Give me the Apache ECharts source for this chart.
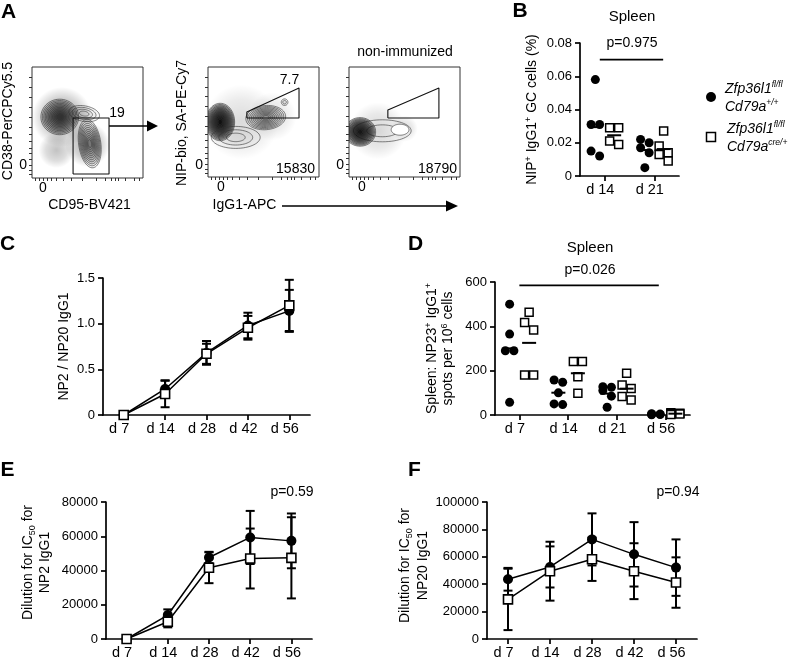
<!DOCTYPE html>
<html><head><meta charset="utf-8">
<script src="https://cdn.jsdelivr.net/npm/echarts@6/dist/echarts.min.js"></script>
<style>html,body{margin:0;padding:0;background:#fff}#c{width:790px;height:660px}</style>
</head><body><div id="c"></div>
<script>
const FONT = '"Liberation Sans", Arial, Helvetica, sans-serif';

// ---------- Panel A (flow cytometry) ----------
// speckle clouds: [cx, cy, rx, ry, rotationDeg, density]   (axis units 0-100)
// contour populations: [cx, cy, rx, ry, rotationDeg, levels, density]
const flow1Clouds = [[27,55,30,27,0,0.36],[50,30,20,32,0,0.32],[22,25,16,22,0,0.24]];
const flow1Contours = [[25,55,17,16,0,12,0.09],[47,58,14,7,-10,4,0.03],[52,31,10,22,8,11,0.035]];
const flow1Gate = [[37,3.6],[69.4,3.6],[69.4,54],[37,54],[37,3.6]];
const flow2Clouds = [[30,50,42,34,0,0.14],[58,55,30,22,0,0.12]];
const flow2Contours = [[11,50,13,17,0,14,0.16],[25,36,22,10,0,3,0.02],[52,54,18,11,5,10,0.035],[69,68,3,3,0,2,0.05]];
const flow2Gate = [[35,53.6],[35,59],[82,81],[82,53.6],[35,53.6]];
const flow3Clouds = [[26,42,30,26,0,0.16],[50,44,24,12,0,0.14]];
const flow3Contours = [[30,42,26,10,0,2,0],[10,41,14,13,0,12,0.17],[46,43,8,5,0,1,-1]];
const flow3Gate = [[35,53.6],[35,61],[81,81],[81,53.6],[35,53.6]];
const flowGatePercent = ['19', '7.7', ''];
const flowEventCount = ['', '15830', '18790'];
const flowYTicks = [3, 7, 11.7, 17, 22, 27, 33, 39, 46, 55, 64, 73, 82, 91];
const flowXTicks = [3, 6.5, 10, 13.5, 17, 22, 28, 35, 45, 58, 66, 71, 75, 78, 84, 92, 97];

// ---------- Panel B ----------
const bCategories = ['d 14', 'd 21'];
const bTicks = [0, 0.02, 0.04, 0.06, 0.08];
const bWildtype = [[0.058, 0.031, 0.031, 0.015, 0.012], [0.022, 0.020, 0.017, 0.014, 0.005]];
const bKnockout = [[0.029, 0.029, 0.021, 0.019], [0.027, 0.018, 0.014, 0.013, 0.009]];
const bSigBar = [-0.1, 1.18, 0.07];

// ---------- Panel C ----------
const timeCategories = ['d 7', 'd 14', 'd 28', 'd 42', 'd 56'];
const cTicks = [0, 0.5, 1.0, 1.5];
const cWtMean = [0, 0.285, 0.68, 0.98, 1.14];
const cWtErr  = [0, 0.095, 0.13, 0.14, 0.23];
const cKoMean = [0, 0.23, 0.67, 0.955, 1.2];
const cKoErr  = [0, 0.145, 0.11, 0.13, 0.28];

// ---------- Panel D ----------
const dCategories = ['d 7', 'd 14', 'd 21', 'd 56'];
const dTicks = [0, 200, 400, 600];
const dWildtype = [[500, 365, 290, 290, 57], [158, 148, 100, 50, 47], [128, 125, 110, 85, 35], [6, 4, 3, 2, 1]];
const dKnockout = [[464, 417, 384, 181, 181], [241, 241, 173, 98], [188, 135, 120, 83, 68], [10, 8, 6, 4, 2]];
const dSigBar = [0, 2.86, 585];

// ---------- Panel E ----------
const eTicks = [0, 20000, 40000, 60000, 80000];
const eWtMean = [0, 14000, 47600, 59300, 57300];
const eWtErr  = [0, 3300, 3300, 15500, 16000];
const eKoMean = [0, 10100, 41600, 47000, 47400];
const eKoErr  = [0, 3300, 9000, 17500, 23700];

// ---------- Panel F ----------
const fTicks = [0, 20000, 40000, 60000, 80000, 100000];
const fWtMean = [43600, 52600, 72700, 61800, 52100];
const fWtErr  = [8300, 15000, 19000, 23500, 20600];
const fKoMean = [28900, 49500, 58200, 49500, 41200];
const fKoErr  = [22400, 21500, 15800, 20400, 18400];

// ================= layout =================
const G = [
  {left:32, top:67, width:111, height:111},
  {left:208, top:67, width:111, height:110},
  {left:349, top:67, width:111, height:110},
  {left:580, top:43, width:99, height:133},
  {left:103, top:278, width:207, height:137},
  {left:495, top:282, width:195, height:133},
  {left:106, top:502, width:206, height:137},
  {left:487, top:502, width:210, height:137}
];
const grids = G.map((g, i) => Object.assign({containLabel:false}, g,
  i < 3 ? {show:true, borderColor:'#333', borderWidth:1, backgroundColor:'transparent'} : {}));

const AXL = {show:true, onZero:false, lineStyle:{color:'#000', width:1.7}};
const AXT = {show:true, length:5, lineStyle:{color:'#000', width:1.7}};
const LBL = {color:'#000', fontFamily:FONT, fontSize:13};
const XLBL = {color:'#000', fontFamily:FONT, fontSize:14.5, margin:6, padding:[0,9,0,0]};
const NAMEST = (lh, pad) => ({color:'#000', fontFamily:FONT, fontSize:14, lineHeight:lh, align:'center', padding:pad || 0,
  rich:{
    sup:{fontFamily:FONT, fontSize:9, lineHeight:10, verticalAlign:'top', color:'#000'},
    sub:{fontFamily:FONT, fontSize:9, lineHeight:8, verticalAlign:'bottom', color:'#000'}
  }});
const noSplit = {show:false};

function flowAxes(i, zx, zy) {
  return {
    x: {gridIndex:i, type:'value', min:0, max:100, axisLine:{show:false}, splitLine:noSplit,
        axisTick:{show:true, inside:false, length:3, customValues:flowXTicks, lineStyle:{color:'#333', width:1}},
        axisLabel:{show:true, customValues:[zx], formatter:()=>'0', color:'#000', fontFamily:FONT, fontSize:14, margin:3}},
    y: {gridIndex:i, type:'value', min:0, max:100, axisLine:{show:false}, splitLine:noSplit,
        axisTick:{show:true, inside:false, length:3, customValues:flowYTicks, lineStyle:{color:'#333', width:1}},
        axisLabel:{show:true, customValues:[zy], formatter:()=>'0', color:'#000', fontFamily:FONT, fontSize:14, margin:5}}
  };
}
const fa = [flowAxes(0, 9.9, 11.7), flowAxes(1, 11.7, 10.9), flowAxes(2, 11.7, 10.9)];

const xAxes = [fa[0].x, fa[1].x, fa[2].x,
  {gridIndex:3, type:'value', min:-0.5, max:1.5, axisLine:AXL, splitLine:noSplit,
   axisTick:Object.assign({customValues:[0,1]}, AXT),
   axisLabel:Object.assign({customValues:[0,1], formatter:v=>bCategories[Math.round(v)]}, XLBL)},
  {gridIndex:4, type:'category', data:timeCategories, boundaryGap:true, axisLine:AXL,
   axisTick:Object.assign({alignWithLabel:true}, AXT), axisLabel:Object.assign({interval:0}, XLBL)},
  {gridIndex:5, type:'value', min:-0.5, max:3.5, axisLine:AXL, splitLine:noSplit,
   axisTick:Object.assign({customValues:[0,1,2,3]}, AXT),
   axisLabel:Object.assign({customValues:[0,1,2,3], formatter:v=>dCategories[Math.round(v)]}, XLBL)},
  {gridIndex:6, type:'category', data:timeCategories, boundaryGap:true, axisLine:AXL,
   axisTick:Object.assign({alignWithLabel:true}, AXT), axisLabel:Object.assign({interval:0}, XLBL)},
  {gridIndex:7, type:'category', data:timeCategories, boundaryGap:true, axisLine:AXL,
   axisTick:Object.assign({alignWithLabel:true}, AXT), axisLabel:Object.assign({interval:0}, XLBL)}
];

function valY(gi, ticks, fmt, name, gap, lh, pad) {
  return {gridIndex:gi, type:'value', min:ticks[0], max:ticks[ticks.length-1], interval:ticks[1]-ticks[0],
    axisLine:AXL, axisTick:AXT, splitLine:noSplit,
    axisLabel:Object.assign({formatter:fmt, margin:8}, LBL),
    name:name, nameLocation:'middle', nameRotate:90, nameGap:gap, nameTextStyle:NAMEST(lh, pad)};
}
const yAxes = [fa[0].y, fa[1].y, fa[2].y,
  valY(3, bTicks, v => v === 0 ? '0' : v.toFixed(2), 'NIP{sup|+} IgG1{sup|+} GC cells (%)', 39, 17),
  valY(4, cTicks, v => v === 0 ? '0' : v.toFixed(1), 'NP2 / NP20 IgG1', 29, 17),
  valY(5, dTicks, v => String(v), 'Spleen: NP23{sup|+} IgG1{sup|+}\nspots per 10{sup|6} cells', 39, 16),
  valY(6, eTicks, v => String(v), 'Dilution for IC{sub|50} for\nNP2 IgG1', 52, 17, [0,0,0,16]),
  valY(7, fTicks, v => String(v), 'Dilution for IC{sub|50} for\nNP20 IgG1', 45, 18, [0,0,0,10])
];

// ================= renderers =================
function ellipsePoints(c, s, f, rotDeg) {
  const pts = [], r = rotDeg * Math.PI / 180;
  for (let i = 0; i < 60; i++) {
    const t = i / 60 * 2 * Math.PI;
    const ex = s[0] * f * Math.cos(t), ey = s[1] * f * Math.sin(t);
    pts.push([c[0] + ex * Math.cos(r) - ey * Math.sin(r), c[1] - (ex * Math.sin(r) + ey * Math.cos(r))]);
  }
  return pts;
}
function cloudItem(params, api) {
  const c = api.coord([api.value(0), api.value(1)]);
  const s = api.size([api.value(2), api.value(3)]);
  const a = api.value(5);
  return {type:'polygon', shape:{points:ellipsePoints(c, s, 1, api.value(4))},
    style:{fill:{type:'radial', x:0.5, y:0.5, r:0.5, colorStops:[
      {offset:0, color:'rgba(0,0,0,' + a + ')'}, {offset:0.6, color:'rgba(0,0,0,' + (a * 0.55) + ')'},
      {offset:1, color:'rgba(0,0,0,0)'}]}}};
}
function contourItem(params, api) {
  const c = api.coord([api.value(0), api.value(1)]);
  const s = api.size([api.value(2), api.value(3)]);
  const rot = api.value(4), lv = api.value(5), a = api.value(6);
  const children = [];
  for (let k = lv; k >= 1; k--) {
    const f = 0.08 + 0.92 * k / lv;
    const fill = a < 0 ? '#fff' : 'rgba(0,0,0,' + a + ')';
    children.push({type:'polygon', shape:{points:ellipsePoints(c, s, f, rot)},
      style:{fill:fill, stroke:'#333', lineWidth:0.6}});
  }
  return {type:'group', children};
}
function errItem(params, api) {
  const x = api.value(0), m = api.value(1), e = api.value(2);
  if (!e) return null;
  const t = api.coord([x, m + e]), b = api.coord([x, m - e]), w = 4.5;
  const st = {stroke:'#000', lineWidth:2};
  return {type:'group', children:[
    {type:'line', shape:{x1:t[0], y1:t[1], x2:b[0], y2:b[1]}, style:st},
    {type:'line', shape:{x1:t[0]-w, y1:t[1], x2:t[0]+w, y2:t[1]}, style:st},
    {type:'line', shape:{x1:b[0]-w, y1:b[1], x2:b[0]+w, y2:b[1]}, style:st}
  ]};
}

// beeswarm-like spread of points that would overlap (two columns)
function swarm(values, pxPerVal, sizePx, pxPerUnitX) {
  const idx = values.map((v, i) => i).sort((a, b) => values[b] - values[a]);
  const off = new Array(values.length).fill(0);
  let cluster = [], prev = null;
  const flush = () => {
    if (cluster.length > 1) cluster.forEach((id, k) => { off[id] = (k % 2 === 0 ? -0.5 : 0.5) * sizePx * 0.95 / pxPerUnitX; });
    cluster = [];
  };
  idx.forEach(id => {
    if (prev !== null && (values[prev] - values[id]) * pxPerVal < sizePx) cluster.push(id);
    else { flush(); cluster.push(id); }
    prev = id;
  });
  flush();
  return off;
}
function dotData(groups, shift, pxPerVal, size, pxPerUnitX) {
  const out = [];
  groups.forEach((vals, c) => {
    const off = swarm(vals, pxPerVal, size, pxPerUnitX);
    vals.forEach((v, k) => out.push([c + shift + off[k], v]));
  });
  return out;
}
function meanData(groups, shift) {
  return groups.map((vals, c) => [c + shift, vals.reduce((a, b) => a + b, 0) / vals.length]);
}

const series = [];
const flowClouds = [flow1Clouds, flow2Clouds, flow3Clouds];
const flowContours = [flow1Contours, flow2Contours, flow3Contours];
const flowGates = [flow1Gate, flow2Gate, flow3Gate];
for (let i = 0; i < 3; i++) {
  series.push({type:'custom', xAxisIndex:i, yAxisIndex:i, clip:true, silent:true, renderItem:cloudItem, data:flowClouds[i]});
  series.push({type:'custom', xAxisIndex:i, yAxisIndex:i, clip:true, silent:true, renderItem:contourItem, data:flowContours[i]});
  series.push({type:'line', xAxisIndex:i, yAxisIndex:i, symbol:'none', silent:true, data:flowGates[i],
    lineStyle:{color:'#111', width:1.1}});
}

const DOT = {color:'#000', opacity:1};
const SQ = {color:'#fff', borderColor:'#000', borderWidth:1.5, opacity:1};
// B
const bPxV = G[3].height / 0.08, bPxU = G[3].width / 2;
series.push({type:'scatter', xAxisIndex:3, yAxisIndex:3, symbol:'circle', symbolSize:9, silent:true,
  itemStyle:DOT, data:dotData(bWildtype, -0.19, bPxV, 9, bPxU)});
series.push({type:'scatter', xAxisIndex:3, yAxisIndex:3, symbol:'rect', symbolSize:8, silent:true,
  itemStyle:SQ, data:dotData(bKnockout, 0.19, bPxV, 9.5, bPxU)});
series.push({type:'scatter', xAxisIndex:3, yAxisIndex:3, symbol:'rect', symbolSize:[14, 2], silent:true,
  itemStyle:DOT, data:meanData(bWildtype, -0.19).concat(meanData(bKnockout, 0.19))});
series.push({type:'line', xAxisIndex:3, yAxisIndex:3, symbol:'none', silent:true,
  data:[[bSigBar[0], bSigBar[2]], [bSigBar[1], bSigBar[2]]], lineStyle:{color:'#000', width:1.6}});

// D
const dPxV = G[5].height / 600, dPxU = G[5].width / 4;
series.push({type:'scatter', xAxisIndex:5, yAxisIndex:5, symbol:'circle', symbolSize:9, silent:true,
  itemStyle:DOT, data:dotData(dWildtype, -0.2, dPxV, 9, dPxU)});
series.push({type:'scatter', xAxisIndex:5, yAxisIndex:5, symbol:'rect', symbolSize:8, silent:true,
  itemStyle:SQ, data:dotData(dKnockout, 0.2, dPxV, 9.5, dPxU)});
series.push({type:'scatter', xAxisIndex:5, yAxisIndex:5, symbol:'rect', symbolSize:[14, 2], silent:true,
  itemStyle:DOT, data:meanData(dWildtype, -0.2).concat(meanData(dKnockout, 0.2))});
series.push({type:'line', xAxisIndex:5, yAxisIndex:5, symbol:'none', silent:true,
  data:[[dSigBar[0], dSigBar[2]], [dSigBar[1], dSigBar[2]]], lineStyle:{color:'#000', width:1.6}});

// C, E, F
function timeSeries(ax, wtM, wtE, koM, koE) {
  series.push({type:'custom', xAxisIndex:ax, yAxisIndex:ax, silent:true, renderItem:errItem,
    data:wtM.map((m, i) => [i, m, wtE[i]])});
  series.push({type:'custom', xAxisIndex:ax, yAxisIndex:ax, silent:true, renderItem:errItem,
    data:koM.map((m, i) => [i, m, koE[i]])});
  series.push({type:'line', xAxisIndex:ax, yAxisIndex:ax, silent:true, symbol:'circle', symbolSize:10,
    itemStyle:{color:'#000'}, lineStyle:{color:'#000', width:1.5}, data:wtM, z:3});
  series.push({type:'line', xAxisIndex:ax, yAxisIndex:ax, silent:true, symbol:'rect', symbolSize:9,
    itemStyle:{color:'#fff', borderColor:'#000', borderWidth:1.6}, lineStyle:{color:'#000', width:1.5}, data:koM, z:4});
}
timeSeries(4, cWtMean, cWtErr, cKoMean, cKoErr);
timeSeries(6, eWtMean, eWtErr, eKoMean, eKoErr);
timeSeries(7, fWtMean, fWtErr, fKoMean, fKoErr);

// ================= annotations =================
function txt(x, y, text, o) {
  o = o || {};
  return {type:'text', x:x, y:y, rotation:o.rot || 0, silent:true, z:10,
    style:{text:text, fill:'#000', fontFamily:FONT, fontSize:o.size || 14, fontWeight:o.weight || 'normal',
      fontStyle:o.italic ? 'italic' : 'normal', lineHeight:o.lh,
      align:o.align || 'center', verticalAlign:'middle', textAlign:o.align || 'center', textVerticalAlign:'middle',
      rich:o.rich}};
}
const legendRich = {
  it:{fontFamily:FONT, fontSize:14, fontStyle:'italic', lineHeight:18, color:'#000'},
  sup:{fontFamily:FONT, fontSize:8.5, fontStyle:'italic', lineHeight:10, verticalAlign:'top', color:'#000'}
};
const graphics = [
  txt(8.5, 12.5, 'A', {size:21, weight:'bold'}),
  txt(520, 11, 'B', {size:21, weight:'bold'}),
  txt(7.5, 244.5, 'C', {size:21, weight:'bold'}),
  txt(415.5, 244.5, 'D', {size:21, weight:'bold'}),
  txt(7.5, 470.5, 'E', {size:21, weight:'bold'}),
  txt(414.5, 470.5, 'F', {size:21, weight:'bold'}),
  // flow
  txt(8, 121, 'CD38-PerCPCy5.5', {rot:Math.PI/2}),
  txt(89.5, 205, 'CD95-BV421'),
  txt(182, 123, 'NIP-bio, SA-PE-Cy7', {rot:Math.PI/2}),
  txt(244.5, 205, 'IgG1-APC'),
  txt(405, 52, 'non-immunized'),
  txt(117, 113.5, flowGatePercent[0]),
  txt(289.5, 80, flowGatePercent[1]),
  txt(315, 169, flowEventCount[1], {align:'right'}),
  txt(457, 169, flowEventCount[2], {align:'right'}),
  {type:'line', shape:{x1:109, y1:126, x2:150, y2:126}, style:{stroke:'#000', lineWidth:1.6}, silent:true},
  {type:'polygon', shape:{points:[[147,120.5],[158,126],[147,131.5]]}, style:{fill:'#000'}, silent:true},
  {type:'line', shape:{x1:282, y1:206, x2:450, y2:206}, style:{stroke:'#000', lineWidth:1.6}, silent:true},
  {type:'polygon', shape:{points:[[446,200.5],[458,206],[446,211.5]]}, style:{fill:'#000'}, silent:true},
  // B
  txt(632, 17, 'Spleen', {size:15}),
  txt(632, 43.5, 'p=0.975'),
  {type:'circle', shape:{cx:711, cy:97, r:5}, style:{fill:'#000'}, silent:true},
  {type:'rect', shape:{x:706.5, y:132.5, width:9, height:9}, style:{fill:'#fff', stroke:'#000', lineWidth:1.5}, silent:true},
  txt(725, 98, '{it|Zfp36l1}{sup|fl/fl}\n{it|Cd79a}{sup|+/+}', {align:'left', rich:legendRich, lh:18}),
  txt(727, 138.5, '{it|Zfp36l1}{sup|fl/fl}\n{it|Cd79a}{sup|cre/+}', {align:'left', rich:legendRich, lh:18}),
  // D
  txt(590, 248, 'Spleen', {size:15}),
  txt(590, 270, 'p=0.026'),
  // E, F
  txt(292, 492.5, 'p=0.59'),
  txt(678, 492.5, 'p=0.94')
];

const chart = echarts.init(document.getElementById('c'), null, {renderer:'canvas', width:790, height:660});
chart.setOption({
  animation:false,
  backgroundColor:'#fff',
  textStyle:{fontFamily:FONT},
  grid:grids,
  xAxis:xAxes,
  yAxis:yAxes,
  series:series,
  graphic:{elements:graphics}
});
</script></body></html>
